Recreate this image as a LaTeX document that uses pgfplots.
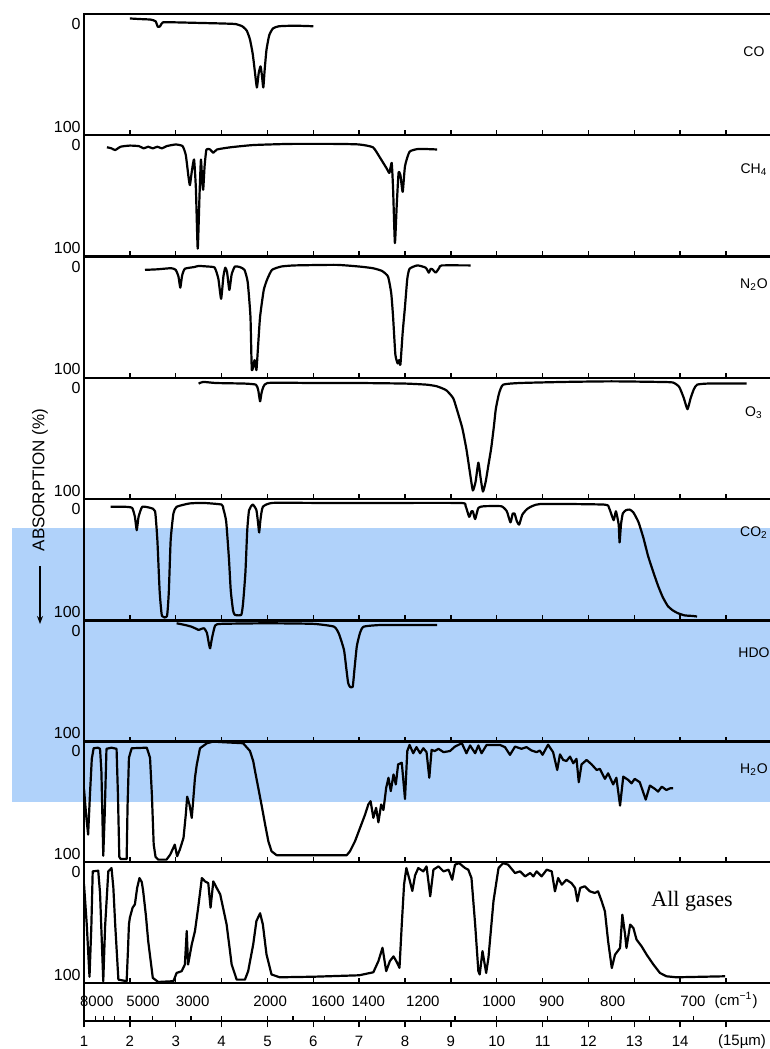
\documentclass[border=0pt]{standalone}
\usepackage{pgfplots}
\pgfplotsset{compat=1.18}
\usepackage{fontspec}
\setmainfont{Liberation Sans}
\newfontfamily\serifgas{Liberation Serif}
\usetikzlibrary{arrows.meta}
\definecolor{band}{RGB}{176,210,250}

\pgfplotsset{
  panel/.style={
    scale only axis, width=348.5pt, height=60.7pt, anchor=north west,
    xmin=1, xmax=16.2, ymin=-8, ymax=101, y dir=reverse,
    xtick={2,...,15}, xticklabels={}, xtick pos=left, tick align=inside,
    major tick length=2.5pt,
    ytick={1,93}, yticklabels={0,100}, ytick style={draw=none},
    yticklabel style={font=\fontsize{8}{9}\selectfont, inner sep=1.5pt},
    axis line style={line width=1pt}, xtick style={line width=0.7pt, black},
  },
  gas/.style={black, line width=1.1pt, line join=round, no markers},
  smoothgas/.style={gas, smooth, tension=0.3},
}
\newcommand{\gaslabel}[2]{\node[font=\fontsize{7}{8}\selectfont] at (axis cs:15.61,#1) {#2};}

\begin{document}
\begin{tikzpicture}
\path[use as bounding box] (0,0) rectangle (385pt,-524.5pt);
\clip (0,0) rectangle (385pt,-524.5pt);
\fill[band] (6pt,-264pt) rectangle (385pt,-401pt);

% CO
\begin{axis}[panel, at={(42pt,-7pt)}]
\addplot[smoothgas] coordinates {(2.0,-4) (2.2,-3.5) (2.45,-3) (2.56,-1.5) (2.61,3.5) (2.66,3) (2.72,-0.5) (3.0,-0.5) (3.5,0) (4.0,0.5) (4.3,1) (4.45,3) (4.55,7) (4.62,15) (4.68,28) (4.73,45) (4.77,58) (4.81,45) (4.85,39) (4.88,47) (4.91,58) (4.94,42) (4.98,24) (5.04,11) (5.12,5) (5.25,3) (5.6,2.5) (6.0,3)};
\gaslabel{26}{CO}
\end{axis}

% CH4
\begin{axis}[panel, at={(42pt,-67.5pt)}]
\addplot[smoothgas] coordinates {(1.5,3) (1.6,4) (1.68,5.5) (1.8,2.5) (2.0,1.5) (2.2,2) (2.3,4) (2.4,2.5) (2.5,4) (2.6,2.5) (2.7,4) (2.8,2) (3.0,0.5) (3.15,2) (3.22,10) (3.28,30) (3.31,37) (3.35,25) (3.4,14) (3.44,40) (3.48,94) (3.52,45) (3.55,14) (3.58,35) (3.6,41) (3.63,20) (3.67,5) (3.75,5) (3.82,8) (3.9,5) (4.2,3) (4.7,1) (5.5,0) (6.5,0) (7.0,0.5) (7.3,3) (7.45,12) (7.6,22) (7.66,26) (7.71,17) (7.74,40) (7.78,89) (7.82,55) (7.86,26) (7.9,28) (7.95,43) (8.0,20) (8.1,7) (8.3,4.5) (8.7,5)};
\gaslabel{23}{CH\textsubscript{4}}
\end{axis}

% N2O
\begin{axis}[panel, at={(42pt,-128.25pt)}]
\addplot[smoothgas] coordinates {(2.33,4) (2.6,3.5) (2.9,2.5) (3.0,4) (3.06,10) (3.1,20) (3.14,9) (3.2,3) (3.4,1.5) (3.5,0.5) (3.7,1) (3.85,2) (3.93,12) (3.99,30) (4.04,10) (4.08,2) (4.12,6) (4.17,22) (4.22,8) (4.29,1) (4.4,1.5) (4.5,4) (4.57,15) (4.63,46) (4.66,94) (4.72,85) (4.76,94) (4.8,70) (4.84,46) (4.92,22) (5.0,12) (5.1,4) (5.3,1) (5.6,0) (6.5,-0.5) (7.0,1) (7.3,2.5) (7.5,5) (7.63,10) (7.7,25) (7.74,46) (7.79,80) (7.84,88) (7.87,85) (7.9,89) (7.95,60) (8.0,37) (8.05,12) (8.1,3) (8.27,0) (8.45,2) (8.52,6.5) (8.56,3) (8.6,3.5) (8.67,6.5) (8.75,2) (8.8,0) (9.43,0)};
\gaslabel{17}{N\textsubscript{2}O}
\end{axis}

% O3
\begin{axis}[panel, at={(42pt,-189pt)}]
\addplot[smoothgas] coordinates {(3.5,-3) (3.6,-4.5) (3.88,-3.5) (4.5,-3) (4.75,-2) (4.8,3) (4.84,13) (4.88,4) (5.0,-3.5) (6.0,-3.5) (7.0,-3.5) (8.0,-3) (8.48,-2) (8.7,-0.5) (8.9,3) (9.05,10) (9.13,20) (9.25,37) (9.34,56) (9.42,78) (9.48,93) (9.54,85) (9.6,68) (9.65,82) (9.7,94) (9.76,85) (9.82,70) (9.88,55) (9.94,35) (9.98,20) (10.05,6) (10.14,-2) (10.5,-3.5) (11.5,-4.5) (12.5,-5) (13.5,-4.5) (13.84,-4) (13.98,0) (14.08,10) (14.16,20) (14.23,10) (14.3,2) (14.37,-2) (14.6,-3) (15.45,-3)};
\gaslabel{23}{O\textsubscript{3}}
\end{axis}

% CO2
\begin{axis}[panel, at={(42pt,-249.5pt)}]
\addplot[smoothgas] coordinates {(1.58,-1) (1.9,-1) (2.05,0) (2.11,8) (2.15,20) (2.19,8) (2.27,-1) (2.45,0) (2.55,3) (2.6,29) (2.65,75) (2.7,97) (2.81,97) (2.85,75) (2.89,29) (2.95,5) (3.02,-1) (3.3,-4) (3.6,-4.5) (4.0,-3) (4.04,1) (4.1,12) (4.16,45) (4.2,74) (4.25,92) (4.29,96) (4.43,96) (4.47,85) (4.52,58) (4.56,20) (4.6,2) (4.68,-3) (4.76,2) (4.8,15) (4.82,22) (4.85,10) (4.9,-1) (5.11,-4.5) (6.0,-4.5) (7.0,-4.5) (8.0,-4.5) (9.24,-4.4) (9.32,-2) (9.4,8) (9.45,3) (9.48,3) (9.53,10) (9.6,0) (9.72,-1.5) (10.1,-1.5) (10.22,3) (10.3,13) (10.35,5) (10.39,5) (10.44,12) (10.49,15) (10.56,6) (10.68,0.5) (10.95,-3.5) (12.34,-3) (12.45,0) (12.55,11) (12.6,3) (12.66,15) (12.68,31) (12.71,15) (12.75,5) (12.82,2) (12.9,1.5) (12.98,4) (13.09,12.6) (13.2,27) (13.3,43) (13.41,57) (13.52,70) (13.62,80) (13.73,88) (13.84,92) (13.95,94.5) (14.1,96.5) (14.27,97) (14.37,97.5)};
\gaslabel{22}{CO\textsubscript{2}}
\end{axis}

% HDO
\begin{axis}[panel, at={(42pt,-310.25pt)}]
\addplot[smoothgas] coordinates {(3.02,-5.5) (3.2,-4) (3.34,-2.5) (3.45,-0.5) (3.5,0.5) (3.56,-0.5) (3.62,-1) (3.68,3) (3.72,12) (3.75,17) (3.79,8) (3.86,-3.5) (4.0,-5) (5.0,-5.5) (6.0,-5) (6.45,-2.5) (6.56,4) (6.67,18.5) (6.72,35) (6.76,48) (6.8,51.5) (6.86,51.5) (6.9,35) (6.95,15) (7.02,3) (7.1,-2.5) (7.5,-4) (8.7,-4)};
\gaslabel{21}{HDO}
\end{axis}

% H2O
\begin{axis}[panel, at={(42pt,-370.5pt)}]
\addplot[gas] coordinates {(1.0,35) (1.05,60) (1.09,76) (1.13,40) (1.17,8) (1.21,-1.5) (1.3,-2) (1.35,-1) (1.38,20) (1.42,95) (1.45,60) (1.49,-1) (1.6,-2) (1.71,-1) (1.74,40) (1.77,96) (1.8,98) (1.93,98) (1.95,50) (1.98,7) (2.04,-1.5) (2.37,-2) (2.44,7) (2.48,40) (2.52,85) (2.56,96) (2.62,98.5) (2.8,98.5) (2.88,94) (2.98,85) (3.03,95.5) (3.09,89.5) (3.17,79) (3.22,58) (3.25,42) (3.3,49) (3.35,61) (3.38,46) (3.42,25) (3.46,13) (3.53,-1.5) (3.68,-6) (3.82,-7.5) (4.0,-7) (4.47,-6) (4.62,1) (4.69,10) (4.73,19) (4.8,34) (4.87,49) (4.95,67) (5.02,82) (5.09,91) (5.2,94.5) (6.73,94.5) (6.8,91) (6.91,82) (7.02,70) (7.13,58) (7.2,49) (7.25,46) (7.31,61) (7.37,52) (7.42,65) (7.48,49) (7.53,54) (7.59,34) (7.64,25) (7.69,37) (7.75,22) (7.8,31) (7.85,13) (7.93,11.5) (8.0,44) (8.05,1) (8.1,-4.5) (8.18,3) (8.25,-2.5) (8.33,3) (8.4,-1.5) (8.47,2) (8.53,25) (8.58,0) (8.65,1) (8.73,-1) (8.84,2) (8.98,1) (9.09,-3) (9.24,-6) (9.34,3) (9.42,-4) (9.53,3) (9.6,-4) (9.67,3) (9.78,-4.5) (10.07,-4.5) (10.18,-2.5) (10.29,4.4) (10.4,-3) (10.54,-1) (10.65,-2.5) (10.76,0.5) (10.87,2) (10.94,0.5) (11.0,4.4) (11.12,-4.7) (11.23,2) (11.32,18) (11.38,4) (11.45,9) (11.52,10) (11.6,6) (11.67,12) (11.74,8) (11.79,29) (11.85,13) (11.96,9) (12.07,13) (12.18,18) (12.25,17) (12.36,26) (12.43,21) (12.54,31) (12.61,25) (12.69,50) (12.76,24) (12.87,27) (12.94,30) (13.01,26) (13.12,29) (13.25,44.6) (13.34,32) (13.45,35) (13.52,37.4) (13.6,33) (13.7,36) (13.78,34.5) (13.85,34.5)};
\gaslabel{18}{H\textsubscript{2}O}
\end{axis}

% all gases
\begin{axis}[panel, at={(42pt,-431pt)}]
\addplot[gas] coordinates {(1.0,12) (1.06,48) (1.12,95) (1.16,50) (1.19,0.4) (1.31,-0.2) (1.35,20) (1.42,99) (1.46,50) (1.53,0.4) (1.6,-2.6) (1.64,15) (1.68,48) (1.75,97.6) (1.93,99) (1.96,70) (1.98,48) (2.0,42) (2.06,33) (2.11,30) (2.16,15) (2.21,6.4) (2.26,10) (2.29,18) (2.35,40) (2.4,63) (2.5,96) (2.62,99.7) (2.95,99) (3.02,91.6) (3.13,90) (3.2,84) (3.24,54) (3.27,84) (3.35,66) (3.42,54) (3.49,33) (3.57,6.4) (3.64,9.4) (3.71,11) (3.76,33) (3.82,9.4) (3.89,15) (3.97,21) (4.11,48) (4.22,84) (4.33,97.6) (4.51,97.6) (4.58,90) (4.69,66) (4.76,45) (4.84,38) (4.9,48) (4.98,75) (5.09,93) (5.27,95.5) (6.0,95) (7.0,93.7) (7.31,91) (7.42,81) (7.51,69) (7.59,90) (7.67,81) (7.75,76.7) (7.81,81) (7.88,87) (7.93,48) (7.98,12) (8.03,-2.6) (8.1,8) (8.16,18) (8.22,4) (8.29,-2.6) (8.4,0.4) (8.47,-4.1) (8.55,22.8) (8.62,-1.1) (8.73,-4.1) (8.84,0.4) (8.95,-1.1) (9.03,7.9) (9.09,-5.6) (9.18,-7) (9.31,-2.6) (9.38,-1.1) (9.45,6.4) (9.53,48) (9.6,90) (9.63,93) (9.69,72) (9.77,91.6) (9.82,78) (9.93,27) (10.04,-2.6) (10.14,-7) (10.25,-5.6) (10.4,1.9) (10.51,0.4) (10.62,4.9) (10.73,1.9) (10.8,4.9) (10.87,0.4) (10.98,4.9) (11.09,-1.1) (11.2,0.4) (11.27,18.3) (11.34,6.4) (11.42,12.35) (11.52,7.9) (11.63,10.9) (11.71,15.3) (11.76,27.3) (11.82,15.3) (11.92,13.8) (12.03,18.3) (12.14,19.8) (12.21,18.3) (12.29,27.3) (12.36,36.3) (12.43,63.2) (12.51,87.2) (12.58,75.2) (12.69,69.2) (12.74,39.3) (12.8,57.2) (12.83,69.2) (12.91,48.2) (12.98,51.2) (13.05,61.7) (13.16,67.7) (13.27,75.2) (13.42,84.2) (13.56,91.6) (13.7,94.6) (13.92,95.5) (14.98,94.6)};
\node[font=\serifgas\fontsize{11}{12}\selectfont] at (axis cs:14.26,27) {All gases};
\end{axis}

% wavenumber / wavelength scale
\begin{axis}[scale only axis, width=348.5pt, height=19pt, anchor=north west, at={(42pt,-491.7pt)},
  xmin=1, xmax=16.2, ymin=0, ymax=1, clip=false,
  axis x line*=bottom, axis y line*=left, ytick=\empty,
  xtick={1,...,15}, xticklabels={}, tick align=outside, major tick length=3pt,
  axis line style={line width=1pt}, xtick style={line width=0.7pt, black}]
\pgfplotsinvokeforeach{1.25,1.4286,1.6667,2,2.5,3.3333,4,5,5.5556,6.25,7.1429,8.3333,9.0909,10,11.1111,12.5,13.3333,14.2857}{
  \draw[line width=0.7pt] (axis cs:#1,0) -- ++(0pt,2.5pt);}
\pgfplotsinvokeforeach{1,2,3,4,5,6,7,8,9,10,11,12,13,14}{
  \node[font=\fontsize{7.5}{8}\selectfont] at (axis cs:#1,-0.52) {#1};}
\node[font=\fontsize{7.5}{8}\selectfont] at (axis cs:15.35,-0.52) {(15µm)};
\node[font=\fontsize{7.5}{8}\selectfont] at (axis cs:1.28,0.54) {8000};
\node[font=\fontsize{7.5}{8}\selectfont] at (axis cs:2.29,0.54) {5000};
\node[font=\fontsize{7.5}{8}\selectfont] at (axis cs:3.37,0.54) {3000};
\node[font=\fontsize{7.5}{8}\selectfont] at (axis cs:5.06,0.54) {2000};
\node[font=\fontsize{7.5}{8}\selectfont] at (axis cs:6.32,0.54) {1600};
\node[font=\fontsize{7.5}{8}\selectfont] at (axis cs:7.2,0.54) {1400};
\node[font=\fontsize{7.5}{8}\selectfont] at (axis cs:8.39,0.54) {1200};
\node[font=\fontsize{7.5}{8}\selectfont] at (axis cs:10.05,0.54) {1000};
\node[font=\fontsize{7.5}{8}\selectfont] at (axis cs:11.2,0.54) {900};
\node[font=\fontsize{7.5}{8}\selectfont] at (axis cs:12.53,0.54) {800};
\node[font=\fontsize{7.5}{8}\selectfont] at (axis cs:14.28,0.54) {700};
\node[font=\fontsize{7.5}{8}\selectfont] at (axis cs:15.22,0.54) {(cm\textsuperscript{−1})};
\end{axis}

\node[rotate=90, font=\fontsize{8.5}{10}\selectfont] at (20pt,-240pt) {ABSORPTION (\%)};
\draw[-{Stealth[length=4pt,width=3pt]}, line width=0.8pt] (20pt,-283pt) -- (20pt,-312pt);
\end{tikzpicture}
\end{document}
